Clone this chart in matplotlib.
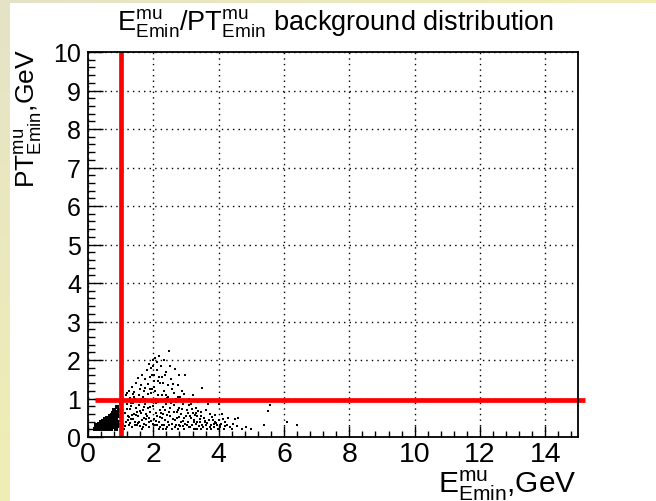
import numpy as np
import matplotlib
matplotlib.use("Agg")
import matplotlib.pyplot as plt
from matplotlib.ticker import MultipleLocator
from matplotlib.patches import Rectangle

plt.rcParams['font.family'] = ['Liberation Sans', 'DejaVu Sans']
plt.rcParams['mathtext.fontset'] = 'custom'
plt.rcParams['mathtext.rm'] = 'Liberation Sans'
plt.rcParams['mathtext.it'] = 'Liberation Sans:italic'

# background events (E, PT) in GeV, wide cloud
e_bkg = [0.92, 0.95, 0.97, 1.00, 1.02, 1.05, 1.07, 1.10, 1.12, 1.15, 1.17, 1.20, 1.18, 1.22, 0.98, 1.08,
         1.24, 1.26, 1.28, 1.30, 1.32, 1.34, 1.36, 1.38, 1.40, 1.42, 1.44, 1.46, 1.48, 1.25, 1.35, 1.45, 1.29, 1.41, 1.50, 1.33,
         1.52, 1.54, 1.56, 1.58, 1.60, 1.62, 1.64, 1.66, 1.68, 1.70, 1.72, 1.74, 1.76, 1.78, 1.55, 1.65, 1.75, 1.60, 1.70, 1.80, 1.57, 1.67, 1.77,
         1.82, 1.84, 1.86, 1.88, 1.90, 1.92, 1.94, 1.96, 1.98, 2.00, 2.02, 2.04, 2.06, 2.08, 2.10, 2.12, 2.14, 2.16, 2.18, 2.20,
         1.85, 1.95, 2.05, 2.15, 1.90, 2.00, 2.10, 1.88, 1.98, 2.08, 2.18, 2.03, 1.93, 2.13, 2.20,
         2.22, 2.24, 2.26, 2.28, 2.30, 2.32, 2.34, 2.36, 2.38, 2.40, 2.42, 2.44, 2.46, 2.48, 2.50, 2.52, 2.54, 2.56, 2.58,
         2.25, 2.35, 2.45, 2.55, 2.30, 2.40, 2.50, 2.27, 2.37, 2.47, 2.57, 2.33,
         2.62, 2.64, 2.66, 2.68, 2.70, 2.72, 2.74, 2.76, 2.78, 2.80, 2.82, 2.84, 2.86, 2.88, 2.90, 2.92, 2.94, 2.96, 2.98,
         2.65, 2.75, 2.85, 2.95, 2.70, 2.80,
         3.02, 3.05, 3.08, 3.10, 3.12, 3.15, 3.18, 3.20, 3.22, 3.25, 3.28, 3.30, 3.32, 3.35, 3.38, 3.40, 3.42, 3.45, 3.48, 3.50,
         3.15, 3.25, 3.35, 3.45,
         3.55, 3.60, 3.62, 3.65, 3.70, 3.72, 3.75, 3.80, 3.85, 3.88, 3.90, 3.95, 4.00, 4.02, 4.05, 4.08, 4.10, 4.15, 4.20,
         3.68, 3.78, 3.98,
         4.25, 4.30, 4.35, 4.45, 4.50, 4.60, 4.70, 4.85, 5.00, 5.40, 5.50, 5.57, 6.10, 6.40, 4.40, 4.55,
         1.13, 1.19, 1.27, 1.31, 1.37, 1.43, 1.47, 1.53, 1.59, 1.63,
         1.69, 1.73, 1.79, 1.83, 1.87, 1.91, 1.97, 2.01, 2.07, 2.11,
         2.17, 2.21, 2.29, 2.31, 2.39, 2.43, 2.49, 2.53, 2.59, 2.61,
         2.67, 2.73, 2.77, 2.83, 2.89, 2.93, 2.99, 3.03, 3.07, 3.13,
         3.17, 3.23, 3.27, 3.33, 3.37, 3.43, 3.47, 3.53, 3.58, 3.63,
         3.73, 3.83, 3.93, 4.03, 4.12, 4.18, 1.21, 1.39, 1.51, 1.71,
         1.89, 2.09, 2.23, 2.41, 2.63, 2.79, 2.91, 3.09, 3.31, 3.57,
         3.87, 1.61, 1.81, 2.01, 2.19, 2.36]
pt_bkg = [0.25, 0.42, 0.66, 0.30, 0.78, 0.50, 0.95, 0.22, 0.62, 1.08, 0.38, 0.85, 1.15, 0.55, 0.85, 0.35,
          1.20, 0.30, 0.72, 1.02, 0.46, 1.30, 0.25, 0.88, 0.60, 1.18, 0.40, 1.40, 0.75, 0.95, 0.58, 0.98, 0.36, 1.05, 0.30, 0.80,
          1.52, 0.55, 1.10, 0.28, 0.90, 1.35, 0.45, 1.62, 0.70, 1.20, 0.35, 1.00, 1.50, 0.60, 0.82, 0.22, 0.85, 1.25, 0.50, 1.75, 0.40, 1.05, 0.30,
          0.95, 1.38, 0.25, 1.90, 0.65, 1.15, 0.42, 1.60, 2.00, 0.80, 1.30, 0.30, 2.05, 1.00, 0.55, 1.75, 1.45, 0.20, 2.10, 0.70,
          0.75, 0.90, 1.20, 0.90, 1.55, 1.85, 1.95, 0.50, 0.35, 0.62, 0.40, 1.60, 1.80, 1.10, 1.40,
          0.95, 1.85, 0.30, 1.55, 0.60, 1.20, 2.00, 0.45, 0.85, 1.70, 0.25, 1.35, 1.05, 2.23, 0.55, 0.75, 1.50, 0.35, 1.25,
          1.10, 0.70, 0.40, 0.95, 1.40, 0.20, 1.85, 0.50, 1.00, 0.65, 0.20, 0.30,
          0.65, 1.15, 1.77, 0.30, 0.90, 0.50, 1.35, 0.20, 1.60, 0.75, 1.05, 0.40, 0.60, 1.20, 0.28, 0.85, 0.50, 1.60, 0.35,
          0.45, 0.70, 0.95, 0.22, 1.00, 0.30,
          0.70, 0.40, 1.00, 0.25, 0.55, 0.85, 0.30, 0.62, 1.10, 0.45, 0.22, 0.75, 0.35, 0.55, 0.90, 0.28, 0.48, 0.65, 0.30, 1.27,
          0.50, 0.20, 0.40, 0.20,
          0.50, 0.32, 0.70, 0.22, 0.45, 0.60, 0.30, 0.52, 0.25, 0.40, 0.58, 0.30, 0.86, 0.45, 0.25, 0.35, 0.60, 0.20, 0.40,
          0.85, 0.20, 0.20,
          0.30, 0.50, 0.25, 0.35, 0.48, 0.49, 0.22, 0.26, 0.20, 0.30, 0.68, 0.83, 0.38, 0.30, 0.20, 0.28,
          0.28, 0.72, 0.52, 0.88, 1.12, 0.32, 0.58, 0.36, 0.68, 0.98,
          0.26, 1.28, 0.48, 1.12, 0.38, 0.78, 1.25, 0.48, 0.88, 0.30,
          1.55, 0.52, 0.78, 0.22, 1.10, 0.56, 0.32, 0.88, 0.46, 1.38,
          0.25, 0.64, 1.05, 0.28, 0.72, 1.12, 0.55, 0.32, 0.62, 0.26,
          0.72, 0.38, 0.58, 0.22, 0.68, 0.40, 0.55, 0.26, 0.42, 0.36,
          0.26, 0.44, 0.36, 0.32, 0.48, 0.28, 0.45, 0.48, 0.65, 0.78,
          1.25, 0.42, 0.62, 1.02, 0.82, 0.52, 0.42, 0.82, 0.62, 0.38,
          0.33, 0.62, 0.55, 1.45, 0.25, 1.62]

# dense low-energy core
e_core = [0.22, 0.26, 0.30, 0.30, 0.34, 0.35, 0.38, 0.40, 0.40, 0.43, 0.45, 0.46, 0.48, 0.50, 0.50, 0.52, 0.54, 0.55,
          0.56, 0.58, 0.60, 0.60, 0.62, 0.63, 0.65, 0.66, 0.67, 0.68, 0.70, 0.70, 0.72, 0.73, 0.74, 0.75, 0.76, 0.78,
          0.78, 0.80, 0.80, 0.82, 0.83, 0.85, 0.85, 0.87, 0.88, 0.90, 0.90, 0.92, 0.93, 0.94, 0.25, 0.33, 0.44, 0.57,
          0.37, 0.47, 0.58, 0.64, 0.53, 0.43, 0.69, 0.62, 0.71, 0.77, 0.66]
pt_core = [0.22, 0.26, 0.22, 0.30, 0.25, 0.33, 0.22, 0.30, 0.38, 0.26, 0.34, 0.42, 0.22, 0.30, 0.38, 0.46, 0.26, 0.34,
           0.42, 0.50, 0.22, 0.30, 0.38, 0.46, 0.26, 0.54, 0.34, 0.42, 0.22, 0.50, 0.30, 0.58, 0.38, 0.46, 0.62, 0.26,
           0.54, 0.34, 0.70, 0.42, 0.60, 0.22, 0.50, 0.30, 0.66, 0.40, 0.78, 0.55, 0.30, 0.70, 0.30, 0.20, 0.20, 0.20,
           0.28, 0.28, 0.28, 0.32, 0.36, 0.34, 0.40, 0.44, 0.44, 0.50, 0.48]

# selection cuts
e_cut = 1.0
pt_cut = 0.95

fig = plt.figure(figsize=(6.56, 5.02), dpi=100)

# slide backdrop: yellow gradient behind a white canvas
bg = fig.add_axes([0, 0, 1, 1], zorder=-10)
yy, xx = np.mgrid[0:1:100j, 0:1:100j]
c0 = np.array([0.90, 0.89, 0.78])
c1 = np.array([0.97, 0.96, 0.66])
t = np.clip(0.6 * yy + 0.6 * xx, 0, 1)[..., None]
bg.imshow(c0 * (1 - t) + c1 * t, aspect='auto', extent=[0, 1, 0, 1])
bg.axis('off')
fig.patches.append(Rectangle((10 / 656, 0), 1, 1 - 4 / 502, transform=fig.transFigure,
                             facecolor='white', edgecolor='none', zorder=-5))

ax = fig.add_axes([88 / 656, 1 - 438 / 502, 490 / 656, 385 / 502])
ax.plot(e_bkg, pt_bkg, ls='none', marker='s', ms=1.6, mew=0, color='black')
ax.plot(e_core, pt_core, ls='none', marker='s', ms=3.4, mew=0, color='black')

ax.plot([e_cut, e_cut], [0, 10], color='#ff0000', lw=3.4, solid_capstyle='butt', clip_on=False)
ax.plot([0.2, 15.2], [pt_cut, pt_cut], color='#ff0000', lw=3.4, solid_capstyle='butt', clip_on=False)

ax.set_xlim(0, 15)
ax.set_ylim(0, 10)
ax.xaxis.set_major_locator(MultipleLocator(2))
ax.xaxis.set_minor_locator(MultipleLocator(0.4))
ax.yaxis.set_major_locator(MultipleLocator(1))
ax.yaxis.set_minor_locator(MultipleLocator(0.2))
ax.grid(True, which='major', color='black', lw=1.0, ls=(0, (1, 3)))
ax.tick_params(which='both', direction='in', top=False, right=False, width=1)
ax.tick_params(axis='x', which='major', length=8, labelsize=20.5, pad=3)
ax.tick_params(axis='x', which='minor', length=4)
ax.tick_params(axis='y', which='major', length=10.5, labelsize=18, pad=5)
ax.tick_params(axis='y', which='minor', length=5)
for s in ax.spines.values():
    s.set_linewidth(1.3)

fig.text(336 / 656, 1 - 31 / 502, r'$\mathrm{E^{mu}_{Emin}/PT^{mu}_{Emin}}$ background distribution',
         ha='center', va='baseline', fontsize=19.5)
fig.text(577 / 656, 1 - 493 / 502, r'$\mathrm{E^{mu}_{Emin}}$,GeV', ha='right', va='baseline', fontsize=21.5)
fig.text(28 / 656, 1 - 49 / 502, r'$\mathrm{PT^{mu}_{Emin}}$,GeV', ha='center', va='top', rotation=90, fontsize=19)

fig.savefig('out.png', dpi=100)
